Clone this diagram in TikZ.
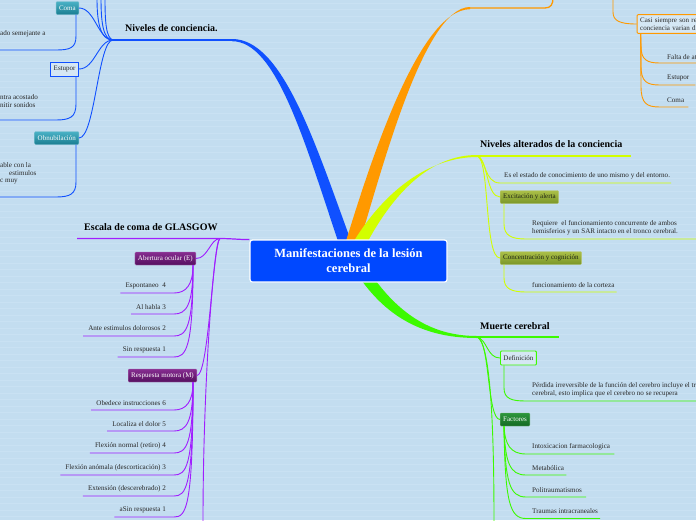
\documentclass[tikz,border=0pt]{standalone}
\usepackage{fontspec}
\setmainfont{Liberation Serif}
\usetikzlibrary{calc}

\definecolor{bgblue}{RGB}{195,221,240}
\definecolor{stripe}{RGB}{201,225,243}
\definecolor{rootblue}{RGB}{0,72,255}
\definecolor{brblue}{RGB}{16,80,255}
\definecolor{brorange}{RGB}{255,153,0}
\definecolor{bryellow}{RGB}{210,255,0}
\definecolor{brgreen}{RGB}{60,250,0}
\definecolor{brpurple}{RGB}{160,30,255}
\definecolor{txt}{RGB}{40,40,40}

\tikzset{
  rootbox/.style={draw=white, line width=1.2pt, fill=rootblue, rounded corners=2.5pt,
    minimum width=197pt, minimum height=42pt, align=center, text=white,
    font=\bfseries\fontsize{12.5}{15}\selectfont, inner sep=2pt},
  branchtitle/.style={anchor=west, inner sep=0pt, text=black,
    font=\bfseries\fontsize{10}{12}\selectfont},
  leaf/.style={inner sep=0pt, text=txt, align=left, font=\fontsize{7.1}{8}\selectfont},
  topic/.style={inner xsep=3pt, inner ysep=0pt, minimum height=13pt, rounded corners=1pt,
    font=\fontsize{7}{8}\selectfont},
  tealbox/.style={topic, top color={rgb,255:red,75;green,178;blue,198},
    bottom color={rgb,255:red,25;green,125;blue,145}, draw={rgb,255:red,120;green,190;blue,205}, text=white},
  blueoutline/.style={topic, draw=brblue, line width=1pt, fill=bgblue!70!white, rounded corners=0pt, minimum height=14pt, text=txt},
  purplebox/.style={topic, top color={rgb,255:red,135;green,45;blue,145},
    bottom color={rgb,255:red,85;green,15;blue,95}, draw={rgb,255:red,175;green,120;blue,185}, text=white},
  olivebox/.style={topic, top color={rgb,255:red,172;green,192;blue,72},
    bottom color={rgb,255:red,122;green,150;blue,40}, draw={rgb,255:red,185;green,200;blue,120}, text={rgb,255:red,30;green,35;blue,20}},
  greenoutline/.style={topic, draw=brgreen, line width=0.9pt, fill=bgblue!70!white, minimum height=14pt, text=txt},
  factorbox/.style={topic, top color={rgb,255:red,45;green,150;blue,60},
    bottom color={rgb,255:red,20;green,105;blue,35}, draw={rgb,255:red,110;green,175;blue,115}, text=white},
  orangebox/.style={topic, draw=brorange, line width=0.9pt, fill=bgblue!70!white, inner ysep=3pt,
    text width=72pt, align=left, text=txt},
  bline/.style={draw=brblue, line width=0.9pt},
  oline/.style={draw=brorange, line width=0.9pt},
  yline/.style={draw=bryellow, line width=0.9pt},
  gline/.style={draw=brgreen, line width=0.9pt},
  pline/.style={draw=brpurple, line width=0.9pt},
  stripeline/.style={draw=stripe, line width=0.8pt}
}

\begin{document}
\begin{tikzpicture}[x=1pt,y=-1pt]
    \useasboundingbox (0,0) rectangle (696,520);
    \clip (0,0) rectangle (696,520);
    \fill[bgblue] (0,0) rectangle (696,520);
    \foreach \s in {3,9.5,...,520} \draw[stripeline] (0,\s) -- (696,\s);

    % main branches
    \fill[brblue] (338,241) .. controls (304,140) and (276,41.2) .. (232,41.2) -- (232,39) .. controls (282,38.8) and (314,140) .. (351,241) -- cycle;
    \fill[brorange] (346,241) .. controls (368,170) and (418,9.2) .. (470,9.2) -- (470,7) .. controls (424,7) and (382,170) .. (360,241) -- cycle;
    \fill[bryellow] (354,241) .. controls (384,192) and (428,157.2) .. (477,157) -- (477,155) .. controls (432,155) and (396,190) .. (368,241) -- cycle;
    \fill[brgreen] (362,281) .. controls (392,322) and (430,338) .. (477,338) -- (477,336) .. controls (436,336) and (404,318) .. (376,281) -- cycle;

    \node[rootbox] at (348.5,261) (root) {Manifestaciones de la lesión\\cerebral};

    % Niveles de conciencia
    \node[branchtitle] at (125,28) (nivcon) {Niveles de conciencia.};
    \coordinate (nchub) at (113,40);
    \coordinate (ncend) at (233,40);
    \draw[bline, line width=1.3pt] (ncend) -- (nchub);
    \coordinate (ncup1) at (97,-2);
    \coordinate (ncup2) at (101,-2);
    \coordinate (ncup3) at (105,-2);
    \draw[bline] (nchub) .. controls (100,40) and (97,22) .. (ncup1);
    \draw[bline] (nchub) .. controls (103,40) and (101,22) .. (ncup2);
    \draw[bline] (nchub) .. controls (106,38) and (105,22) .. (ncup3);
    \node[tealbox, anchor=east] at (79,8) (coma) {Coma};
    \node[blueoutline, anchor=east] at (79,69) (estupor) {Estupor};
    \node[tealbox, anchor=east] at (79,138) (obnub) {Obnubilación};
    \draw[bline] (nchub) .. controls (98,40) and (95,8) .. (coma.east);
    \draw[bline] (nchub) .. controls (98,40) and (95,69) .. (estupor.east);
    \draw[bline] (nchub) .. controls (98,40) and (95,138) .. (obnub.east);

    \coordinate (comaend) at (-2,50);
    \coordinate (estuporend) at (-2,120);
    \coordinate (obnubend) at (-2,197);
    \node[leaf, anchor=west] at (0,34) (comatxt) {ado semejante a};
    \node[leaf, anchor=west] at (0,101) (estuportxt) {ntra acostado\\nitir sonidos};
    \node[leaf, anchor=west] at (0,165) (obnubtxt) {able con la};
    \node[leaf, anchor=west] at (9,173.5) (obnubtxtb) {estimulos};
    \node[leaf, anchor=west] at (0,182) (obnubtxtc) {c muy};
    \draw[bline] ($(coma.south east)+(-3,0)$) -- (76,36) .. controls (76,48) and (70,50) .. (56,50) -- (comaend);
    \draw[bline] ($(estupor.south east)+(-3,0)$) -- (76,104) .. controls (76,117) and (70,120) .. (56,120) -- (estuporend);
    \draw[bline] ($(obnub.south east)+(-3,0)$) -- (76,182) .. controls (76,194) and (70,197) .. (56,197) -- (obnubend);

    % top right (orange)
    \coordinate (orhub) at (470,8);
    \coordinate (orup) at (553,-2);
    \draw[oline, line width=1.3pt] (orhub) -- (545,8) .. controls (551,8) and (553,4) .. (orup);
    \coordinate (orup2) at (613,-2);
    \node[orangebox, anchor=west] at (636.7,24) (casi) {Casi siempre son re\\conciencia varian d};
    \draw[oline] (orup2) -- (613,12) .. controls (613,21) and (620,24) .. (casi.west);
    \node[leaf, anchor=west] at (667,57) (falta) {Falta de at};
    \node[leaf, anchor=west] at (667,78) (oestupor) {Estupor};
    \node[leaf, anchor=west] at (667,100) (ocoma) {Coma};
    \draw[oline] ($(casi.south west)+(4,0)$) -- (641,46) .. controls (641,60) and (647,63) .. (660,63) -- ($(falta.east)+(5,6)$);
    \draw[oline] ($(casi.south west)+(4,0)$) -- (641,66) .. controls (641,82) and (647,85) .. (660,85) -- ($(oestupor.east)+(6,7)$);
    \draw[oline] ($(casi.south west)+(4,0)$) -- (641,86) .. controls (641,104) and (647,107) .. (660,107) -- ($(ocoma.east)+(4,7)$);

    % Niveles alterados de la conciencia
    \coordinate (yhub) at (477,156);
    \node[branchtitle] at (480,144) (nivalt) {Niveles alterados de la conciencia};
    \draw[yline, line width=1.3pt] (yhub) -- ($(nivalt.east)+(8,12)$);
    \node[leaf, anchor=west] at (504,176) (esel) {Es el estado de conocimiento de uno mismo y del entorno.};
    \draw[yline] (yhub) .. controls (486,158) and (484,183) .. (500,183) -- ($(esel.east)+(1,7)$);
    \node[olivebox, anchor=west] at (500,197) (excit) {Excitación y alerta};
    \draw[yline] (yhub) .. controls (488,158) and (486,197) .. (excit.west);
    \node[olivebox, anchor=west] at (500,258) (concen) {Concentración y cognición};
    \draw[yline] (yhub) .. controls (490,158) and (484,258) .. (concen.west);
    \coordinate (reqend) at (698,239);
    \node[leaf, anchor=west] at (532,228) (requiere) {Requiere\ \ el funcionamiento concurrente de ambos\\hemisferios y un SAR intacto en el tronco cerebral.};
    \draw[yline] ($(excit.south west)+(4,0)$) -- (504,224) .. controls (504,236) and (512,239) .. (526,239) -- (reqend);
    \node[leaf, anchor=west] at (532,285) (funcion) {funcionamiento de la corteza};
    \draw[yline] ($(concen.south west)+(4,0)$) -- (504,278) .. controls (504,289) and (512,292) .. (526,292) -- ($(funcion.east)+(2,7)$);

    % Muerte cerebral
    \coordinate (ghub) at (477,337);
    \node[branchtitle] at (480,326) (muerte) {Muerte cerebral};
    \draw[gline, line width=1.3pt] (ghub) -- ($(muerte.east)+(9,11)$);
    \node[greenoutline, anchor=west] at (500,358) (defin) {Definición};
    \draw[gline] (ghub) .. controls (487,339) and (487,358) .. (defin.west);
    \node[factorbox, anchor=west] at (500,419.5) (factores) {Factores};
    \draw[gline] (ghub) .. controls (490,339) and (487,419.5) .. (factores.west);
    \coordinate (gdown) at (494,522);
    \draw[gline] (ghub) .. controls (490,342) and (494,420) .. (gdown);
    \coordinate (perdend) at (698,401);
    \node[leaf, anchor=west] at (532,390) (perdida) {Pérdida irreversible de la función del cerebro incluye el tro\\cerebral, esto implica que el cerebro no se recupera};
    \draw[gline] ($(defin.south west)+(4,0)$) -- (504,388) .. controls (504,399) and (512,401) .. (526,401) -- (perdend);
    \node[leaf, anchor=west] at (532,447) (intox) {Intoxicacion farmacologica};
    \node[leaf, anchor=west] at (532,468) (metab) {Metabólica};
    \node[leaf, anchor=west] at (532,490) (politr) {Politraumatismos};
    \node[leaf, anchor=west] at (532,511) (traum) {Traumas intracraneales};
    \draw[gline] ($(factores.south west)+(4,0)$) .. controls (505,444) and (510,454) .. (526,454) -- ($(intox.east)+(4,7)$);
    \draw[gline] ($(factores.south west)+(4,0)$) .. controls (505,463) and (510,475) .. (526,475) -- ($(metab.east)+(2,7)$);
    \draw[gline] ($(factores.south west)+(4,0)$) .. controls (505,483) and (510,497) .. (526,497) -- ($(politr.east)+(4,7)$);
    \draw[gline] ($(factores.south west)+(4,0)$) .. controls (505,503) and (510,518.5) .. (526,518.5) -- ($(traum.east)+(2,7.5)$);

    % Escala de coma de GLASGOW
    \coordinate (phub) at (220,238.5);
    \node[branchtitle] at (84,227) (glasgow) {Escala de coma de GLASGOW};
    \draw[pline, line width=1.2pt] (root.north west) .. controls (244,240) and (232,238.5) .. (phub) -- ($(glasgow.west)+(-7,11.5)$);
    \node[purplebox, anchor=east] at (196,258.5) (abertura) {Abertura ocular (E)};
    \draw[pline] (phub) .. controls (210,239) and (208,258.5) .. (abertura.east);
    \node[purplebox, anchor=east] at (197,375.5) (respuesta) {Respuesta motora (M)};
    \draw[pline] (phub) .. controls (213,240) and (209,375.5) .. (respuesta.east);
    \coordinate (pdown) at (203,522);
    \draw[pline] (phub) .. controls (214,242) and (203,380) .. (pdown);

    \node[leaf, anchor=east] at (166,286) (e4) {Espontaneo\ \ 4};
    \node[leaf, anchor=east] at (166,307) (e3) {Al habla 3};
    \node[leaf, anchor=east] at (166,328) (e2) {Ante estimulos dolorosos 2};
    \node[leaf, anchor=east] at (166,350) (e1) {Sin respuesta 1};
    \draw[pline] ($(abertura.south east)+(-3,0)$) .. controls (193,285) and (186,293) .. (174,293) -- ($(e4.west)+(-5,7)$);
    \draw[pline] ($(abertura.south east)+(-3,0)$) .. controls (193,306) and (186,314) .. (174,314) -- ($(e3.west)+(-5,7)$);
    \draw[pline] ($(abertura.south east)+(-3,0)$) .. controls (193,328) and (186,336) .. (174,336) -- ($(e2.west)+(-5,8)$);
    \draw[pline] ($(abertura.south east)+(-3,0)$) .. controls (193,349) and (186,357) .. (174,357) -- ($(e1.west)+(-5,7)$);

    \node[leaf, anchor=east] at (166,403) (m6) {Obedece instrucciones 6};
    \node[leaf, anchor=east] at (166,424) (m5) {Localiza el dolor 5};
    \node[leaf, anchor=east] at (166,446) (m4) {Flexión normal (retiro) 4};
    \node[leaf, anchor=east] at (166,468) (m3) {Flexión anómala (descorticación) 3};
    \node[leaf, anchor=east] at (166,489) (m2) {Extensión (descerebrado) 2};
    \node[leaf, anchor=east] at (166,510) (m1) {aSin respuesta 1};
    \draw[pline] ($(respuesta.south east)+(-4,0)$) .. controls (193,402) and (186,410) .. (174,410) -- ($(m6.west)+(-5,7)$);
    \draw[pline] ($(respuesta.south east)+(-4,0)$) .. controls (193,423) and (186,431) .. (174,431) -- ($(m5.west)+(-5,7)$);
    \draw[pline] ($(respuesta.south east)+(-4,0)$) .. controls (193,445) and (186,453) .. (174,453) -- ($(m4.west)+(-5,7)$);
    \draw[pline] ($(respuesta.south east)+(-4,0)$) .. controls (193,467) and (186,475) .. (174,475) -- ($(m3.west)+(-5,7)$);
    \draw[pline] ($(respuesta.south east)+(-4,0)$) .. controls (193,488) and (186,496) .. (174,496) -- ($(m2.west)+(-5,7)$);
    \draw[pline] ($(respuesta.south east)+(-4,0)$) .. controls (193,509) and (186,517) .. (174,517) -- ($(m1.west)+(-5,7)$);
\end{tikzpicture}
\end{document}
